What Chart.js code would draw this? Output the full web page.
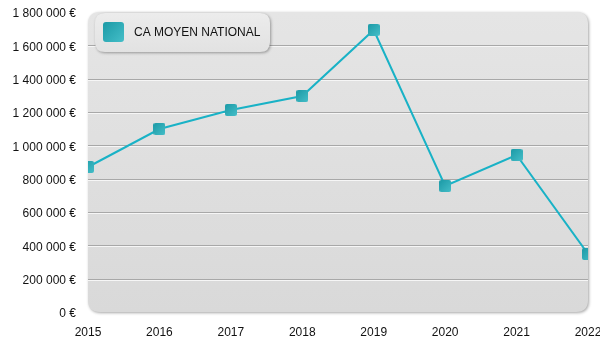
<!DOCTYPE html>
<html lang="fr">
<head>
<meta charset="utf-8">
<title>CA moyen national</title>
<script src="https://cdn.jsdelivr.net/npm/chart.js@4.4.1/dist/chart.umd.min.js"></script>
<style>
  html, body { margin: 0; padding: 0; background: #ffffff; }
  #chart { display: block; }
</style>
</head>
<body>
<canvas id="chart" width="600" height="350"></canvas>
<script>
// Années et chiffre d'affaires moyen national (en euros)
const years = ["2015", "2016", "2017", "2018", "2019", "2020", "2021", "2022"];
const caMoyen = [870000, 1098000, 1212000, 1296000, 1692000, 756000, 942000, 348000];
const seriesLabel = "CA MOYEN NATIONAL";
const yMin = 0;
const yMax = 1800000;
const yStep = 200000;

const FONT = "'Liberation Sans', Arial, sans-serif";

// "1800000" -> "1 800 000 €"
function formatEuro(v) {
  return String(v).replace(/\B(?=(\d{3})+(?!\d))/g, " ") + " €";
}

function roundRect(ctx, x, y, w, h, r) {
  ctx.beginPath();
  ctx.moveTo(x + r, y);
  ctx.lineTo(x + w - r, y);
  ctx.quadraticCurveTo(x + w, y, x + w, y + r);
  ctx.lineTo(x + w, y + h - r);
  ctx.quadraticCurveTo(x + w, y + h, x + w - r, y + h);
  ctx.lineTo(x + r, y + h);
  ctx.quadraticCurveTo(x, y + h, x, y + h - r);
  ctx.lineTo(x, y + r);
  ctx.quadraticCurveTo(x, y, x + r, y);
  ctx.closePath();
}

// teal square with a soft gradient, used for the markers and the legend swatch
function tealSquare(ctx, x, y, w, h, r) {
  const g = ctx.createLinearGradient(x, y, x + w, y + h);
  g.addColorStop(0, "#1b9aa6");
  g.addColorStop(1, "#45bec8");
  ctx.fillStyle = g;
  roundRect(ctx, x, y, w, h, r);
  ctx.fill();
}

const marker = document.createElement("canvas");
marker.width = 12;
marker.height = 12;
tealSquare(marker.getContext("2d"), 0, 0, 12, 12, 2);

// grey rounded panel with embossed grid lines, plus the legend box
const panelPlugin = {
  id: "panel",
  beforeDatasetsDraw(chart) {
    const { ctx, chartArea: a, scales } = chart;
    ctx.save();
    ctx.shadowColor = "rgba(0,0,0,0.35)";
    ctx.shadowBlur = 3;
    ctx.shadowOffsetX = 1;
    ctx.shadowOffsetY = 1;
    const bg = ctx.createLinearGradient(0, a.top, 0, a.bottom);
    bg.addColorStop(0, "#e5e5e5");
    bg.addColorStop(1, "#d9d9d9");
    ctx.fillStyle = bg;
    roundRect(ctx, a.left, a.top, a.right - a.left, a.bottom - a.top, 12);
    ctx.fill();
    ctx.restore();

    ctx.save();
    ctx.lineWidth = 1;
    for (let v = yMin + yStep; v < yMax; v += yStep) {
      const y = Math.round(scales.y.getPixelForValue(v)) + 0.5;
      ctx.strokeStyle = "#a8a8a8";
      ctx.beginPath();
      ctx.moveTo(a.left, y);
      ctx.lineTo(a.right, y);
      ctx.stroke();
      ctx.strokeStyle = "#f6f6f6";
      ctx.beginPath();
      ctx.moveTo(a.left, y + 1);
      ctx.lineTo(a.right, y + 1);
      ctx.stroke();
    }
    ctx.restore();

    // legend box
    const lx = 95, ly = 13, lw = 175, lh = 39;
    ctx.save();
    ctx.shadowColor = "rgba(0,0,0,0.35)";
    ctx.shadowBlur = 3;
    ctx.shadowOffsetX = 1;
    ctx.shadowOffsetY = 1;
    const lg = ctx.createLinearGradient(0, ly, 0, ly + lh);
    lg.addColorStop(0, "#ececec");
    lg.addColorStop(1, "#e2e2e2");
    ctx.fillStyle = lg;
    roundRect(ctx, lx, ly, lw, lh, 10);
    ctx.fill();
    ctx.restore();

    ctx.save();
    tealSquare(ctx, 103, 22, 21, 20, 3);
    ctx.fillStyle = "#111111";
    ctx.font = "12px " + FONT;
    ctx.textBaseline = "middle";
    ctx.fillText(chart.data.datasets[0].label, 134, 33);
    ctx.restore();
  }
};

new Chart(document.getElementById("chart"), {
  type: "line",
  data: {
    labels: years,
    datasets: [{
      label: seriesLabel,
      data: caMoyen,
      borderColor: "#19b2c6",
      borderWidth: 2,
      tension: 0,
      clip: 0,
      pointStyle: marker,
      pointRadius: 6,
      pointHoverRadius: 6
    }]
  },
  options: {
    responsive: false,
    animation: false,
    layout: { padding: { top: 12, right: 12, left: 0, bottom: 0 } },
    plugins: {
      legend: { display: false },
      tooltip: { enabled: false }
    },
    scales: {
      x: {
        offset: false,
        grid: { display: false, drawTicks: false },
        border: { display: false },
        ticks: {
          color: "#111111",
          font: { family: FONT, size: 12 },
          padding: 13,
          maxRotation: 0
        },
        afterFit(scale) {
          scale.height = 38;
          scale.paddingLeft = 0;
          scale.paddingRight = 0;
        }
      },
      y: {
        min: yMin,
        max: yMax,
        grid: { display: false, drawTicks: false },
        border: { display: false },
        ticks: {
          stepSize: yStep,
          color: "#111111",
          font: { family: FONT, size: 12 },
          padding: 12,
          labelOffset: 2,
          callback: (v) => formatEuro(v)
        },
        afterFit(scale) {
          scale.width = 88;
          scale.paddingTop = 0;
          scale.paddingBottom = 0;
        }
      }
    }
  },
  plugins: [panelPlugin]
});
</script>
</body>
</html>
